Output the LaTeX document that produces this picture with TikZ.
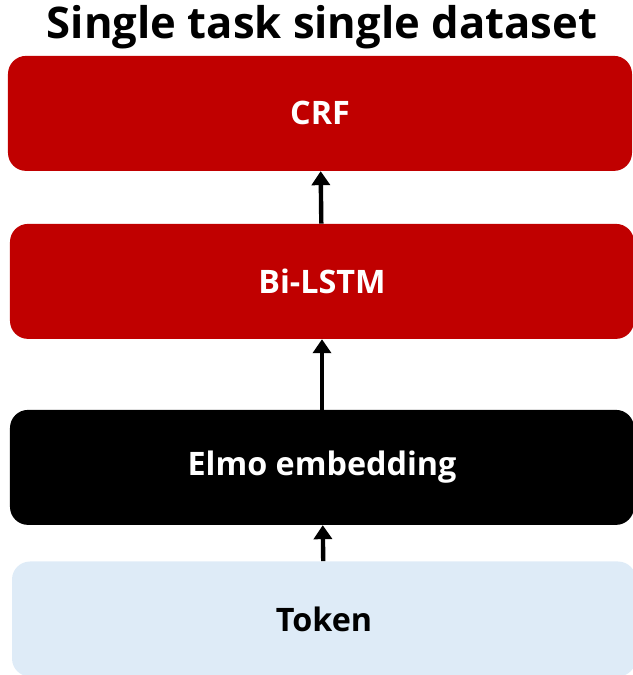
\documentclass[tikz,border=0pt]{standalone}
\usepackage{fontspec}
\setmainfont{Open Sans}
\usepackage{xcolor}
\usetikzlibrary{calc,arrows.meta,positioning}
\definecolor{layerred}{RGB}{192,0,0}
\definecolor{tokenblue}{RGB}{222,235,247}

\begin{document}
\begin{tikzpicture}[
    layer/.style={rectangle, rounded corners=0.45cm, inner sep=0pt,
                  minimum width=15.6cm, minimum height=2.875cm,
                  font=\fontsize{23}{26}\selectfont\bfseries},
    uparrow/.style={line width=0.11cm, -{Triangle[length=0.35cm,width=0.45cm]}}
  ]
  \useasboundingbox (0,0) rectangle (15.825,16.875);

  \node[font=\fontsize{31}{36}\selectfont\bfseries] (title) at (8.05,16.2) {Single task single dataset};

  \node[layer, fill=layerred, text=white] (crf) at (8.0,14.04) {CRF};
  \node[layer, fill=layerred, text=white] (bilstm) at (8.05,9.84) {Bi-LSTM};
  \node[layer, fill=black, text=white] (elmo) at (8.05,5.19) {Elmo embedding};
  \node[layer, fill=tokenblue, text=black] (token) at (8.1,1.4) {Token};

  \draw[uparrow] (token) -- (elmo);
  \draw[uparrow] (elmo) -- (bilstm);
  \draw[uparrow] (bilstm) -- (crf);
\end{tikzpicture}
\end{document}
